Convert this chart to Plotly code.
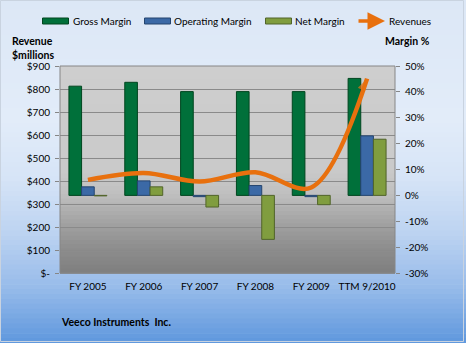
import plotly.graph_objects as go

# ---------------- data ----------------
CATEGORIES = ["FY 2005", "FY 2006", "FY 2007", "FY 2008", "FY 2009", "TTM 9/2010"]
GROSS_MARGIN = [42.2, 43.7, 40.1, 40.1, 40.1, 45.2]        # %
OPERATING_MARGIN = [3.3, 5.6, -0.5, 3.8, -0.5, 23.0]       # %
NET_MARGIN = [-0.2, 3.3, -4.5, -17.0, -3.6, 21.7]          # %
REVENUES = [405, 435, 398, 438, 372, 845]                  # $ millions
SERIES = ["Gross Margin", "Operating Margin", "Net Margin", "Revenues"]

REV_TICKVALS = [0, 100, 200, 300, 400, 500, 600, 700, 800, 900]
REV_TICKTEXT = ["$-", "$100", "$200", "$300", "$400", "$500", "$600", "$700", "$800", "$900"]
MARGIN_TICKVALS = [-30, -20, -10, 0, 10, 20, 30, 40, 50]
MARGIN_TICKTEXT = ["-30%", "-20%", "-10%", "0%", "10%", "20%", "30%", "40%", "50%"]

# ---------------- layout geometry ----------------
W, H = 466, 343
ML, MR, MT, MB = 60, 71, 66, 70
PW, PH = W - ML - MR, H - MT - MB
FONT = "Lato"


def px(x):
    return (x - ML) / PW


def py(y):
    return 1 - (y - MT) / PH


def hex2rgb(h):
    h = h.lstrip("#")
    return [int(h[i:i + 2], 16) for i in (0, 2, 4)]


def interp(stops, t):
    for (t0, c0), (t1, c1) in zip(stops[:-1], stops[1:]):
        if t0 <= t <= t1:
            f = 0 if t1 == t0 else (t - t0) / (t1 - t0)
            a, b = hex2rgb(c0), hex2rgb(c1)
            return "rgb(%d,%d,%d)" % tuple(round(a[i] + (b[i] - a[i]) * f) for i in range(3))
    return stops[-1][1]


shapes = []
# page gradient (top -> bottom)
page_stops = [(0.0, "#dce7f6"), (0.35, "#e2ecf9"), (0.52, "#d6e4f7"),
              (0.68, "#bcd3f1"), (0.84, "#97bbea"), (1.0, "#5e97dd")]
N = 70
for i in range(N):
    y0, y1 = H * i / N, H * (i + 1) / N + 0.6
    shapes.append(dict(type="rect", xref="paper", yref="paper", layer="below",
                       x0=px(0), x1=px(W), y0=py(y1), y1=py(y0),
                       fillcolor=interp(page_stops, (i + 0.5) / N), line=dict(width=0)))
# page frame
shapes.append(dict(type="rect", xref="paper", yref="paper", layer="below",
                   x0=px(0.5), x1=px(W - 2.5), y0=py(H - 1.5), y1=py(0.5),
                   line=dict(color="#c9d3e0", width=1)))

# plot-area gradient
plot_stops = [(0.0, "#cecece"), (0.5, "#cacaca"), (0.62, "#bfbfbf"),
              (0.76, "#a2a2a2"), (0.88, "#8d8d8d"), (1.0, "#7f7f7f")]
M = 50
for i in range(M):
    t0, t1 = i / M, (i + 1) / M
    shapes.append(dict(type="rect", xref="x domain", yref="y domain", layer="below",
                       x0=0, x1=1, y0=1 - t1 - 0.004, y1=1 - t0,
                       fillcolor=interp(plot_stops, (i + 0.5) / M), line=dict(width=0)))
# plot-area border
shapes.append(dict(type="rect", xref="x domain", yref="y domain", layer="above",
                   x0=0, x1=1, y0=0, y1=1, line=dict(color="#868686", width=1)))

# manual legend swatches
BAR_COLORS = ["#00703a", "#3b69a6", "#809d3f"]
BAR_LINES = ["#00461f", "#25456f", "#51642a"]
LINE_COLOR = "#e8700e"
swatch_x = [(42.5, 68.5), (144.5, 170.5), (265.5, 291.5)]
text_x = [71, 172, 293, 387]
for (x0, x1), fc, lc in zip(swatch_x, BAR_COLORS, BAR_LINES):
    shapes.append(dict(type="rect", xref="paper", yref="paper",
                       x0=px(x0), x1=px(x1), y0=py(24), y1=py(18),
                       fillcolor=fc, line=dict(color=lc, width=1)))

annotations = []
for name, tx in zip(SERIES, text_x):
    annotations.append(dict(text=name, xref="paper", yref="paper", x=px(tx), y=py(21),
                            xanchor="left", yanchor="middle", showarrow=False,
                            font=dict(family=FONT, size=10, color="#000000")))
# legend arrow for revenues
annotations.append(dict(text="", xref="paper", yref="paper", x=px(385), y=py(21),
                        ax=-28, ay=0, showarrow=True, arrowhead=2, arrowsize=1,
                        arrowwidth=3.5, arrowcolor=LINE_COLOR))
annotations.append(dict(text="<b>Revenue<br>$millions</b>", xref="paper", yref="paper",
                        x=px(10), y=py(33), xanchor="left", yanchor="top", align="left",
                        showarrow=False, font=dict(family=FONT, size=10.5, color="#000000")))
annotations.append(dict(text="<b>Margin %</b>", xref="paper", yref="paper",
                        x=px(383), y=py(41), xanchor="left", yanchor="middle",
                        showarrow=False, font=dict(family=FONT, size=10.5, color="#000000")))
annotations.append(dict(text="<b>Veeco Instruments\u00a0 Inc.</b>", xref="paper", yref="paper",
                        x=px(59), y=py(322), xanchor="left", yanchor="middle",
                        showarrow=False, font=dict(family=FONT, size=10.5, color="#000000")))

fig = go.Figure()
for name, vals, fc, lc in zip(SERIES[:3], [GROSS_MARGIN, OPERATING_MARGIN, NET_MARGIN],
                              BAR_COLORS, BAR_LINES):
    fig.add_trace(go.Bar(x=CATEGORIES, y=vals, name=name, yaxis="y",
                         marker=dict(color=fc, line=dict(color=lc, width=1))))

n = len(REVENUES)
fig.add_trace(go.Scatter(
    x=CATEGORIES, y=REVENUES, name=SERIES[3], yaxis="y2", mode="lines+markers",
    line=dict(color=LINE_COLOR, width=4.5, shape="spline", smoothing=1.0),
    marker=dict(symbol=["circle"] * (n - 1) + ["arrow"], size=[0] * (n - 1) + [13],
                angleref="previous", color=LINE_COLOR, line=dict(width=0)),
))

fig.update_layout(
    width=W, height=H,
    margin=dict(l=ML, r=MR, t=MT, b=MB, pad=0),
    paper_bgcolor="#dfe9f8", plot_bgcolor="rgba(0,0,0,0)",
    showlegend=False,
    barmode="group", bargap=0.32, bargroupgap=0,
    font=dict(family=FONT, size=10, color="#000000"),
    xaxis=dict(type="category", range=[-0.5, len(CATEGORIES) - 0.5], showgrid=False,
               showline=False, zeroline=False, ticks="", ticklabelstandoff=6,
               tickfont=dict(family=FONT, size=10, color="#000000")),
    yaxis=dict(side="right", range=[-30, 50], tickvals=MARGIN_TICKVALS,
               ticktext=MARGIN_TICKTEXT, showgrid=False, zeroline=False,
               ticks="outside", ticklen=4, tickcolor="#868686", ticklabelstandoff=3,
               tickfont=dict(family=FONT, size=10, color="#000000")),
    yaxis2=dict(side="left", overlaying="y", range=[0, 900], tickvals=REV_TICKVALS,
                ticktext=REV_TICKTEXT, showgrid=True, gridcolor="#8a8a8a", gridwidth=1,
                zeroline=False, ticks="outside", ticklen=4, tickcolor="#868686",
                ticklabelstandoff=3,
                tickfont=dict(family=FONT, size=10, color="#000000")),
    shapes=shapes,
    annotations=annotations,
)

fig.write_html("out.html")
